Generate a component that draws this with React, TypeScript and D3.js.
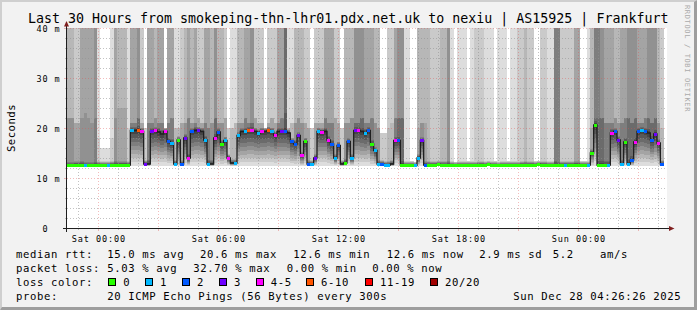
import React from "react";
import * as d3 from "d3";

const WIDTH = 697;
const HEIGHT = 310;
const PLOT_L = 67;
const PLOT_R = 667;
const PLOT_T = 28;
const PLOT_B = 228;
const FONT = "'DejaVu Sans Mono', monospace";

const T_START = new Date(2025, 11, 26, 22, 26, 26);
const T_END = new Date(2025, 11, 28, 4, 26, 26);
const STEP_MS = 10 * 60 * 1000;
const Y_MAX = 40;

const TITLE = "Last 30 Hours from smokeping-thn-lhr01.pdx.net.uk to nexiu | AS15925 | Frankfurt";
const Y_TICKS = [0, 10, 20, 30, 40];
const Y_TICK_LABELS = ["0", "10 m", "20 m", "30 m", "40 m"];
const X_LABEL_TIMES = [
  new Date(2025, 11, 27, 0, 0, 0),
  new Date(2025, 11, 27, 6, 0, 0),
  new Date(2025, 11, 27, 12, 0, 0),
  new Date(2025, 11, 27, 18, 0, 0),
  new Date(2025, 11, 28, 0, 0, 0),
];

// median rtt (ms), one value per 10 minutes
const MED = [
  12.5, 12.5, 12.6, 12.6, 12.6, 12.5, 12.5, 12.5, 12.5, 12.6,
  12.6, 12.6, 12.6, 12.6, 12.6, 12.6, 12.6, 12.6, 12.6, 19.5,
  19.5, 19.6, 19.3, 12.8, 12.8, 19.3, 19.5, 19.2, 18.8, 19.3,
  17.3, 17.0, 12.8, 17.6, 12.8, 18.0, 14.0, 19.3, 19.5, 19.5,
  19.3, 17.6, 12.8, 12.8, 18.0, 19.2, 16.8, 17.5, 14.0, 13.0,
  13.0, 18.5, 19.3, 19.3, 19.5, 19.5, 19.3, 19.0, 19.3, 19.3,
  19.5, 19.3, 18.5, 19.3, 19.3, 19.3, 19.0, 17.3, 16.8, 18.5,
  14.5, 17.3, 12.8, 12.8, 14.0, 19.3, 19.2, 19.3, 17.6, 16.8,
  14.0, 16.5, 12.8, 13.0, 17.3, 14.0, 19.5, 19.5, 19.3, 19.0,
  19.5, 16.8, 15.5, 12.8, 12.8, 12.6, 12.6, 12.8, 17.5, 17.5,
  12.6, 12.6, 12.6, 12.6, 12.5, 14.0, 17.5, 12.6, 12.6, 12.6,
  12.6, 12.7, 12.6, 12.6, 12.6, 12.6, 12.5, 12.6, 12.6, 12.6,
  12.6, 12.6, 12.5, 12.6, 12.6, 12.6, 12.7, 12.6, 12.6, 12.5,
  12.6, 12.6, 12.6, 12.6, 12.6, 12.5, 12.6, 12.6, 12.6, 12.6,
  12.6, 12.7, 12.6, 12.6, 12.6, 12.6, 12.6, 12.5, 12.6, 12.6,
  12.6, 12.6, 12.6, 12.6, 12.6, 12.6, 12.6, 15.0, 20.6, 12.6,
  12.6, 12.6, 12.6, 19.0, 19.3, 17.6, 12.8, 17.2, 12.8, 13.6,
  17.2, 19.3, 19.5, 19.3, 19.0, 17.6, 18.8, 17.0, 12.8,
];

// lost pings (of 20) per step; null = no loss marker visible
const LOSS: (number | null)[] = [
  0, 0, 0, 0, 0, 1, 0, 0, 0, 0,
  0, 0, 1, 0, 0, 0, 0, 0, 0, 1,
  null, 6, 4, 3, null, 3, 4, null, null, 4,
  2, 1, 1, 0, 2, 3, 4, 2, null, 3,
  null, 1, 1, null, 4, 2, 0, 1, 4, null,
  1, 1, null, 1, 6, 4, null, 1, 4, null,
  6, 1, 4, null, 3, 2, null, 2, 2, 3,
  4, 0, 2, 1, 3, 1, 4, null, 4, 2,
  1, 2, null, 0, 2, 1, 3, 4, null, 1,
  2, 0, 1, 1, 2, 1, 1, null, 4, 2,
  0, 0, 0, 0, 1, 1, 3, 2, 0, 0,
  0, 0, 0, 0, 0, 0, 0, 0, 0, 0,
  0, 0, 0, 0, 0, 0, 0, 0, 0, 0,
  0, 0, 0, 0, 0, 0, 0, 0, 0, 0,
  0, 0, 0, 0, 0, 0, 0, 0, 0, 1,
  0, 0, 0, 0, 0, 0, 1, 0, 0, 0,
  0, 0, 1, 4, 2, 3, 1, 0, 1, 2,
  4, 2, 1, 2, null, 2, 3, 4, 2,
];

// number of pings above the 40 ms top (smoke shade at the top)
const KTOP = [
  3, 3, 2, 2, 4, 4, 4, 4, 5, 1,
  0, 0, 0, 1, 4, 3, 3, 3, 1, 4,
  4, 5, 2, 0, 4, 4, 3, 4, 4, 0,
  4, 4, 1, 1, 2, 3, 4, 3, 4, 2,
  2, 4, 4, 3, 5, 3, 3, 2, 0, 1,
  1, 3, 3, 4, 4, 5, 2, 2, 2, 0,
  2, 2, 2, 4, 4, 7, 1, 1, 3, 3,
  3, 2, 2, 0, 2, 2, 2, 4, 4, 4,
  2, 2, 0, 3, 3, 3, 5, 5, 5, 4,
  4, 4, 3, 3, 0, 0, 2, 2, 4, 5,
  5, 1, 1, 0, 0, 3, 3, 3, 3, 2,
  2, 2, 3, 3, 5, 1, 0, 1, 1, 1,
  0, 1, 2, 2, 2, 1, 1, 1, 0, 1,
  1, 1, 0, 1, 1, 2, 2, 3, 2, 2,
  0, 0, 2, 2, 1, 1, 6, 6, 2, 2,
  2, 2, 4, 4, 0, 0, 1, 3, 6, 6,
  5, 4, 4, 4, 3, 3, 4, 4, 5, 5,
  5, 4, 4, 4, 5, 5, 5, 3, 2,
];

// number of pings above MIDH (smoke shade in the lower part)
const KLOW = [
  5, 5, 4, 4, 5, 5, 5, 5, 6, 2,
  1, 1, 1, 2, 5, 4, 4, 4, 2, 6,
  6, 7, 4, 2, 6, 6, 5, 6, 6, 2,
  6, 6, 3, 3, 4, 5, 6, 5, 6, 4,
  4, 6, 6, 5, 7, 5, 5, 4, 2, 3,
  3, 5, 5, 6, 6, 7, 4, 4, 4, 2,
  4, 4, 4, 6, 6, 8, 3, 3, 5, 5,
  5, 4, 4, 2, 4, 4, 4, 6, 6, 6,
  4, 4, 2, 5, 5, 5, 7, 7, 7, 6,
  6, 6, 5, 5, 2, 2, 3, 3, 6, 7,
  7, 1, 1, 0, 0, 4, 5, 4, 3, 2,
  2, 2, 3, 3, 5, 1, 0, 1, 1, 1,
  0, 1, 2, 2, 2, 1, 1, 1, 0, 1,
  1, 1, 0, 1, 1, 2, 2, 3, 2, 2,
  0, 0, 2, 2, 1, 1, 6, 6, 2, 2,
  2, 2, 4, 4, 0, 0, 1, 4, 7, 7,
  7, 6, 6, 6, 5, 5, 6, 6, 7, 7,
  7, 6, 6, 6, 7, 7, 7, 5, 3,
];

// height (ms) where the smoke steps from KTOP shade to KLOW shade
const MIDH = [
  22, 22, 21, 21, 22, 23, 22, 21, 22, 18,
  16, 16, 16, 18, 22, 24, 24, 24, 20, 21,
  21, 22, 21, 20, 21, 21, 22, 21, 21, 20,
  21, 22, 20, 20, 21, 21, 22, 21, 21, 22,
  21, 21, 20, 21, 22, 21, 21, 22, 20, 20,
  21, 21, 21, 22, 21, 21, 22, 21, 21, 20,
  21, 22, 21, 21, 22, 23, 20, 21, 21, 22,
  21, 21, 20, 20, 21, 21, 21, 22, 21, 21,
  22, 21, 20, 21, 21, 22, 21, 21, 22, 21,
  21, 22, 21, 20, 19, 19, 20, 21, 22, 22,
  22, 18, 17, 16, 16, 20, 21, 21, 20, 19,
  19, 20, 21, 20, 22, 18, 16, 18, 18, 17,
  16, 18, 19, 20, 19, 18, 17, 18, 16, 18,
  18, 17, 16, 18, 19, 20, 19, 21, 20, 19,
  16, 16, 19, 20, 18, 18, 22, 22, 19, 20,
  20, 19, 21, 21, 16, 16, 18, 20, 22, 22,
  22, 21, 21, 21, 22, 21, 21, 22, 22, 21,
  22, 21, 21, 22, 22, 21, 22, 21, 20,
];

const PING_COUNT = 20;
const MIN_RTT = 12.4;
const NEAR_SPREAD = 0.8;
const OFF_TOP = 45;

const LOSS_MAX = [0, 1, 2, 3, 5, 10, 19, 20];
const LOSS_LABELS = ["0", "1", "2", "3", "4-5", "6-10", "11-19", "20/20"];
const LOSS_COLORS = ["#26ff00", "#00b8ff", "#0059ff", "#6e00ff", "#ff00ff", "#ff5500", "#ff0000", "#a00000"];
const LEGEND_BOX_X = [108.5, 145.5, 182.5, 219.5, 256.5, 306.5, 365.5, 430.5];
const LEGEND_LABEL_X = [123.3, 160, 197, 234, 270.7, 321, 380, 445];

const STATS_ROW1 = [
  { x: 16, t: "median rtt:" },
  { x: 107.3, t: "15.0 ms avg" },
  { x: 200, t: "20.6 ms max" },
  { x: 293.3, t: "12.6 ms min" },
  { x: 386.7, t: "12.6 ms now" },
  { x: 479.3, t: "2.9 ms sd" },
  { x: 552.7, t: "5.2" },
  { x: 600, t: "am/s" },
];
const STATS_ROW2 = [
  { x: 16, t: "packet loss:" },
  { x: 107.3, t: "5.03 % avg" },
  { x: 193.3, t: "32.70 % max" },
  { x: 286.7, t: "0.00 % min" },
  { x: 372.3, t: "0.00 % now" },
];
const PROBE_ROW = [
  { x: 16, t: "probe:" },
  { x: 107.3, t: "20 ICMP Echo Pings (56 Bytes) every 300s" },
  { x: 513.3, t: "Sun Dec 28 04:26:26 2025" },
];

const GRID_COL = "rgba(143,143,143,0.55)";
const MGRID_COL = "rgba(222,79,79,0.38)";

function shade(b: number) {
  const v = Math.floor((190 / 10) * (10 - b)) + 50;
  const h = v.toString(16).padStart(2, "0");
  return `#${h}${h}${h}`;
}

function lossColor(l: number) {
  for (let i = 0; i < LOSS_MAX.length; i++) if (l <= LOSS_MAX[i]) return LOSS_COLORS[i];
  return LOSS_COLORS[LOSS_COLORS.length - 1];
}

function sortedPings(c: number) {
  const med = MED[c];
  const lo = Math.min(MIN_RTT, med);
  const kt = KTOP[c];
  const kl = Math.max(KLOW[c], kt);
  const p: number[] = new Array(PING_COUNT + 1).fill(0);
  for (let i = 1; i <= 10; i++) p[i] = lo + ((med - lo) * (i - 1)) / 9;
  p[11] = med;
  const nNear = PING_COUNT - kl - 11;
  for (let j = 12; j <= PING_COUNT - kl; j++) p[j] = med + (NEAR_SPREAD * (j - 11)) / Math.max(1, nNear);
  for (let j = PING_COUNT + 1 - kl; j <= PING_COUNT - kt; j++) p[j] = MIDH[c];
  for (let j = PING_COUNT + 1 - kt; j <= PING_COUNT; j++) p[j] = OFF_TOP;
  return p;
}

export default function App() {
  const x = d3.scaleTime().domain([T_START, T_END]).range([PLOT_L, PLOT_R]);
  const y = d3.scaleLinear().domain([0, Y_MAX]).range([PLOT_B, PLOT_T]).clamp(true);
  const n = MED.length;
  const colT = (c: number) => new Date(T_START.getTime() + c * STEP_MS);

  const smoke: React.ReactElement[] = [];
  const markers: React.ReactElement[] = [];
  for (let c = 0; c < n; c++) {
    const x0 = Math.round(x(colT(c)));
    const x1 = Math.round(x(colT(c + 1)));
    const p = sortedPings(c);
    for (let b = 1; b <= 10; b++) {
      const lo = p[b];
      const hi = p[PING_COUNT + 1 - b];
      if (hi <= lo) continue;
      const yt = y(hi);
      const yb = y(lo);
      smoke.push(
        <rect key={`s${c}-${b}`} x={x0} width={x1 - x0} y={yt} height={yb - yt} fill={shade(b)} />
      );
    }
    const l = LOSS[c];
    if (l !== null) {
      markers.push(
        <rect key={`m${c}`} x={x0} width={x1 - x0} y={y(MED[c]) - 1.5} height={3} fill={lossColor(l)} />
      );
    }
  }

  const linePts: [Date, number][] = MED.map((v, c) => [colT(c), v] as [Date, number]);
  linePts.push([colT(n), MED[n - 1]]);
  const medPath = d3
    .line<[Date, number]>()
    .x((d) => x(d[0]))
    .y((d) => y(d[1]))
    .curve(d3.curveStepAfter)(linePts) as string;

  const hours = d3.timeHour.range(d3.timeHour.ceil(T_START), T_END);
  const vGrid = hours.map((h) => ({ px: Math.floor(x(h)) + 0.5, major: h.getHours() % 3 === 0 }));
  const hGrid: { py: number; major: boolean }[] = [];
  for (let v = 2; v <= Y_MAX; v += 2) hGrid.push({ py: Math.round(y(v)) + 0.5, major: v % 10 === 0 });

  const fmt = d3.timeFormat("%a %H:%M");

  return (
    <svg
      width={WIDTH}
      height={HEIGHT}
      style={{ position: "absolute", left: 0, top: 0, display: "block" }}
      fontFamily={FONT}
    >
      <rect x={0} y={0} width={WIDTH} height={HEIGHT} fill="#f2f2f2" />
      <polygon points={`0,0 ${WIDTH},0 ${WIDTH - 2},2 2,2 2,${HEIGHT - 2} 0,${HEIGHT}`} fill="#cfcfcf" />
      <polygon
        points={`${WIDTH},0 ${WIDTH},${HEIGHT} 0,${HEIGHT} 2,${HEIGHT - 3} ${WIDTH - 3},${HEIGHT - 3} ${WIDTH - 3},2`}
        fill="#9e9e9e"
      />
      <rect x={PLOT_L} y={PLOT_T} width={PLOT_R - PLOT_L} height={PLOT_B - PLOT_T} fill="#ffffff" />

      <g shapeRendering="crispEdges">{smoke}</g>

      <g shapeRendering="crispEdges">
        {hGrid.map((g, i) => (
          <line
            key={`h${i}`}
            x1={PLOT_L}
            x2={PLOT_R}
            y1={g.py}
            y2={g.py}
            stroke={g.major ? MGRID_COL : GRID_COL}
            strokeWidth={1}
            strokeDasharray="1,2"
          />
        ))}
        {vGrid.map((g, i) => (
          <line
            key={`v${i}`}
            x1={g.px}
            x2={g.px}
            y1={PLOT_T}
            y2={PLOT_B}
            stroke={g.major ? MGRID_COL : GRID_COL}
            strokeWidth={1}
            strokeDasharray="1,2"
          />
        ))}
        {vGrid.map((g, i) => (
          <line
            key={`vt${i}`}
            x1={g.px}
            x2={g.px}
            y1={PLOT_B}
            y2={PLOT_B + (g.major ? 3 : 2)}
            stroke={g.major ? MGRID_COL : GRID_COL}
            strokeWidth={1}
          />
        ))}
        {hGrid.map((g, i) => (
          <line
            key={`ht${i}`}
            x1={PLOT_L - (g.major ? 3 : 2)}
            x2={PLOT_L}
            y1={g.py}
            y2={g.py}
            stroke={g.major ? MGRID_COL : GRID_COL}
            strokeWidth={1}
          />
        ))}
      </g>

      <path d={medPath} fill="none" stroke="#202020" strokeWidth={1.3} />
      <g shapeRendering="crispEdges">{markers}</g>

      {/* axes */}
      <line x1={63} x2={670} y1={PLOT_B + 0.5} y2={PLOT_B + 0.5} stroke="#1f1f1f" strokeWidth={1} />
      <line x1={PLOT_L - 0.5} x2={PLOT_L - 0.5} y1={232} y2={24} stroke="#1f1f1f" strokeWidth={1} />
      <polygon points={`${PLOT_L - 0.5},21 ${PLOT_L - 3},26.5 ${PLOT_L + 2},26.5`} fill="#801f1f" />
      <polygon points={`674.5,${PLOT_B + 0.5} 669,${PLOT_B - 2} 669,${PLOT_B + 3}`} fill="#801f1f" />

      {/* title */}
      <text x={28} y={22.5} fontSize={13.3} fill="#000">
        {TITLE}
      </text>

      {/* y labels */}
      {Y_TICKS.map((v, i) => (
        <text
          key={`yl${i}`}
          x={60.5}
          y={y(v) + 3.7}
          fontSize={8.5}
          letterSpacing={0.9}
          textAnchor="end"
          fill="#000"
          style={{ whiteSpace: "pre" }}
        >
          {v === 0 ? "0  " : Y_TICK_LABELS[i]}
        </text>
      ))}

      {/* x labels */}
      {X_LABEL_TIMES.map((t, i) => (
        <text
          key={`xl${i}`}
          x={Math.floor(x(t)) + 0.9}
          y={241.5}
          fontSize={8.5}
          letterSpacing={0.9}
          textAnchor="middle"
          fill="#000"
        >
          {fmt(t)}
        </text>
      ))}

      <text
        transform={`translate(15,128) rotate(-90)`}
        fontSize={10.6}
        letterSpacing={0.5}
        textAnchor="middle"
        fill="#000"
      >
        Seconds
      </text>

      <text
        transform={`translate(684.5,5) rotate(90)`}
        fontSize={7}
        letterSpacing={0.65}
        fill="#aaaaaa"
        style={{ whiteSpace: "pre" }}
      >
        RRDTOOL / TOBI OETIKER
      </text>

      {/* legend */}
      {STATS_ROW1.map((s, i) => (
        <text key={`r1${i}`} x={s.x} y={257.7} fontSize={10.6} letterSpacing={0.62} fill="#000" style={{ whiteSpace: "pre" }}>
          {s.t}
        </text>
      ))}
      {STATS_ROW2.map((s, i) => (
        <text key={`r2${i}`} x={s.x} y={271.7} fontSize={10.6} letterSpacing={0.62} fill="#000" style={{ whiteSpace: "pre" }}>
          {s.t}
        </text>
      ))}
      <text x={16} y={285.7} fontSize={10.6} letterSpacing={0.62} fill="#000">
        loss color:
      </text>
      {LOSS_LABELS.map((lab, i) => (
        <g key={`lg${i}`}>
          <rect x={LEGEND_BOX_X[i]} y={278.5} width={7} height={7} fill={LOSS_COLORS[i]} stroke="#000" strokeWidth={1} />
          <text x={LEGEND_LABEL_X[i]} y={285.7} fontSize={10.6} letterSpacing={0.62} fill="#000">
            {lab}
          </text>
        </g>
      ))}
      {PROBE_ROW.map((s, i) => (
        <text key={`r4${i}`} x={s.x} y={299.7} fontSize={10.6} letterSpacing={0.62} fill="#000" style={{ whiteSpace: "pre" }}>
          {s.t}
        </text>
      ))}
    </svg>
  );
}
